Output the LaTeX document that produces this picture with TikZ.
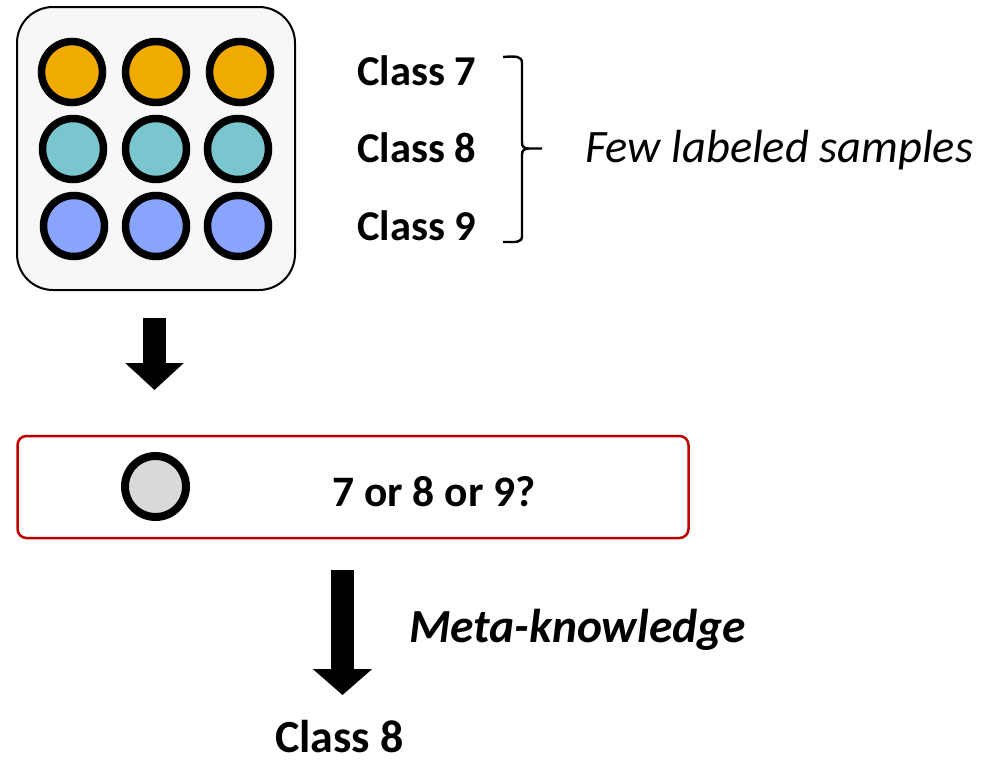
\documentclass[tikz,border=0pt]{standalone}
\usepackage{fontspec}
\setmainfont{Carlito}
\usetikzlibrary{arrows.meta}
\definecolor{corange}{HTML}{F0AB00}
\definecolor{cteal}{HTML}{7AC6CE}
\definecolor{cblue}{HTML}{88A4FF}
\definecolor{cgray}{HTML}{D9D9D9}
\definecolor{boxfill}{HTML}{F7F7F7}
\definecolor{cred}{HTML}{C00000}
\tikzset{
  sample/.style={circle, draw=black, line width=7.5pt, minimum size=61pt, inner sep=0pt},
  classlbl/.style={anchor=base west, inner sep=0pt, font=\fontsize{42.5}{50}\selectfont\bfseries},
  blockarrow/.style={line width=23pt, -{Triangle[width=57pt,length=27pt]}},
}
\begin{document}
\begin{tikzpicture}[x=1pt,y=-1pt]
\useasboundingbox (0,0) rectangle (1006,763);
% support set box
\node[draw=black, line width=2pt, fill=boxfill, rounded corners=36pt, minimum width=278pt, minimum height=283pt, inner sep=0pt] (support) at (156,148.5) {};
% samples
\node[sample, fill=corange] (s11) at (72,72) {};
\node[sample, fill=corange] (s12) at (156,72) {};
\node[sample, fill=corange] (s13) at (240,72) {};
\node[sample, fill=cteal] (s21) at (73,149) {};
\node[sample, fill=cteal] (s22) at (156,149) {};
\node[sample, fill=cteal] (s23) at (238,149) {};
\node[sample, fill=cblue] (s31) at (74,226) {};
\node[sample, fill=cblue] (s32) at (156,226) {};
\node[sample, fill=cblue] (s33) at (238,226) {};
% class labels
\node[classlbl] (c7) at (357,85) {Class 7};
\node[classlbl] (c8) at (357,162) {Class 8};
\node[classlbl] (c9) at (357,240) {Class 9};
% brace
\draw[line width=2.4pt] (503,57) .. controls (516,56) and (522,56) .. (522,63) -- (522,142)
  .. controls (522,147) and (524,148.5) .. (529,148.5) -- (542,148.5);
\draw[line width=2.4pt] (529,148.5) .. controls (524,149) and (522,150) .. (522,155) -- (522,236)
  .. controls (522,243) and (516,242) .. (503,242);
\node[anchor=base west, inner sep=0pt, font=\fontsize{46.5}{55}\selectfont\itshape] (few) at (585,162) {Few labeled samples};
% first arrow
\coordinate (a1s) at (154.5,318);
\coordinate (a1e) at (154.5,390);
\draw[blockarrow] (a1s) -- (a1e);
% query box
\node[draw=cred, line width=2.5pt, fill=white, rounded corners=9pt, minimum width=671pt, minimum height=102pt, inner sep=0pt] (query) at (353,487) {};
\node[circle, draw=black, line width=8pt, fill=cgray, minimum size=61pt, inner sep=0pt] (q) at (155.5,486.5) {};
\node[anchor=base west, inner sep=0pt, font=\fontsize{43.5}{52}\selectfont\bfseries] (qtext) at (332,506) {7 or 8 or 9?};
% second arrow
\coordinate (a2s) at (342.5,570);
\coordinate (a2e) at (342.5,695);
\draw[blockarrow, -{Triangle[width=58pt,length=26pt]}] (a2s) -- (a2e);
\node[anchor=base west, inner sep=0pt, font=\fontsize{47.5}{56}\selectfont\bfseries\itshape] (meta) at (409,642) {Meta-knowledge};
\node[anchor=base west, inner sep=0pt, font=\fontsize{46}{55}\selectfont\bfseries] (result) at (275,752) {Class 8};
\end{tikzpicture}
\end{document}
